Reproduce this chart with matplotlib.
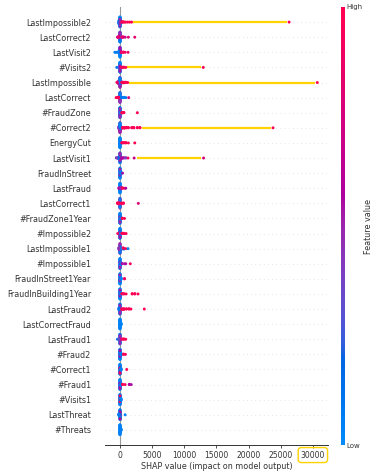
import numpy as np
import matplotlib
matplotlib.use("Agg")
import matplotlib.pyplot as plt
from matplotlib.colors import LinearSegmentedColormap
from matplotlib.patches import FancyBboxPatch
from matplotlib.transforms import IdentityTransform

nan = np.nan

# features, top to bottom
features = ["LastImpossible2", "LastCorrect2", "LastVisit2", "#Visits2", "LastImpossible",
            "LastCorrect", "#FraudZone", "#Correct2", "EnergyCut", "LastVisit1",
            "FraudInStreet", "LastFraud", "LastCorrect1", "#FraudZone1Year", "#Impossible2",
            "LastImpossible1", "#Impossible1", "FraudInStreet1Year", "FraudInBuilding1Year",
            "LastFraud2", "LastCorrectFraud", "LastFraud1", "#Fraud2", "#Correct1",
            "#Fraud1", "#Visits1", "LastThreat", "#Threats"]

# shap value groups per feature (value, how many points, feature value 0..1, nan = missing)
shap_vals = [
    [0, -150, 150, -150, 0, 300, 500, 700, 900, 1200, 1500, 1800, 26300],
    [0, 0, -150, 150, -400, -250, 300, 500, 800, 1300, 2300],
    [0, 0, -150, -300, -600, -800, 200, 500, 800, 1250],
    [0, -150, 0, -500, 300, 600, 900, 12950],
    [0, -150, -300, 150, 0, -450, 300, 600, 900, 1200, 30680],
    [0, 0, -600, -400, -200, 300, 600, 900, 1350],
    [0, 0, 150, 300, 600, 2700],
    [0, -150, 150, 0, 400, 700, 1000, 1300, 1850, 2150, 2700, 3100, 23800],
    [0, 150, 300, 600, 900, 1300, 2300],
    [0, 0, -300, -550, 300, 600, 900, 1250, 2200, 13000],
    [0, 0, 150, 400],
    [0, -150, 150, 400, 700, 900],
    [0, 0, -150, -400, -200, 250, 550, 2850],
    [0, 0, 150, 350, 700],
    [0, 0, 150, -350, 300, 600, 950],
    [0, 0, -150, 300, 600, 500, 900, 1250],
    [0, 0, 150, 350, 700, 900, 1600],
    [0, 0, 150, 700],
    [0, 0, 150, 300, 600, 950, 1900, 2300, 2800],
    [0, 0, -150, 300, 600, 1000, 1400, 1700, 3780],
    [0, 150],
    [0, 0, -400, -200, 300, 600, 900],
    [0, 0, 150, 550, 850],
    [0, 0, 150, 1050],
    [0, 0, 150, 400, 800, 1450, 1750],
    [0, 0, 150],
    [0, 0, 0, -150, 800],
    [0, 150],
]
counts = [
    [32, 10, 8, 3, 4, 2, 2, 1, 1, 1, 1, 1, 1],
    [24, 8, 6, 5, 1, 2, 2, 2, 1, 1, 1],
    [24, 8, 4, 2, 1, 1, 3, 2, 1, 1],
    [30, 4, 4, 1, 3, 2, 1, 1],
    [24, 12, 5, 8, 8, 2, 3, 3, 2, 1, 1],
    [24, 8, 1, 2, 3, 2, 2, 1, 1],
    [30, 8, 6, 3, 2, 1],
    [24, 8, 6, 8, 3, 3, 2, 2, 2, 2, 2, 2, 1],
    [32, 6, 2, 2, 2, 1, 1],
    [22, 8, 3, 2, 3, 2, 2, 1, 1, 1],
    [30, 3, 6, 1],
    [30, 3, 6, 2, 1, 1],
    [20, 8, 6, 2, 2, 3, 2, 1],
    [30, 4, 6, 2, 1],
    [30, 4, 6, 1, 2, 2, 1],
    [20, 6, 6, 3, 2, 2, 1, 1],
    [30, 4, 6, 2, 1, 1, 1],
    [30, 3, 6, 2],
    [30, 3, 6, 2, 2, 1, 2, 2, 1],
    [25, 6, 6, 3, 3, 2, 2, 1, 1],
    [32, 6],
    [22, 6, 1, 2, 2, 2, 1],
    [30, 3, 6, 2, 1],
    [30, 4, 6, 1],
    [30, 4, 6, 2, 1, 2, 1],
    [30, 3, 6],
    [20, 6, 4, 6, 1],
    [32, 6],
]
feat_vals = [
    [0.05, 0.1, 0.15, nan, 0.5, 1.0, 1.0, 1.0, 0.95, 1.0, 1.0, 1.0, 1.0],
    [0.08, 0.5, 0.6, 0.3, 0.7, 0.9, 0.9, 0.85, 0.7, 0.8, 0.85],
    [0.05, 0.55, 0.1, 0.05, 0.1, 0.05, 0.8, 0.95, 0.9, 0.85],
    [0.05, 0.3, 0.55, 0.1, 1.0, 0.95, 1.0, 1.0],
    [0.5, 0.45, 0.5, 0.1, 0.05, 0.9, 1.0, 1.0, 0.95, 1.0, 1.0],
    [0.45, 0.05, 0.95, 1.0, 0.95, 0.1, 0.05, 0.1, 0.75],
    [0.05, 0.5, 0.05, 1.0, 0.95, 1.0],
    [0.5, 0.45, 0.1, 0.05, 1.0, 1.0, 0.95, 1.0, 0.95, 1.0, 0.95, 1.0, 1.0],
    [0.05, 0.05, 1.0, 0.95, 1.0, 1.0, 1.0],
    [0.1, 0.5, 0.15, 0.4, 0.6, 0.55, 0.4, 0.9, 0.7, 0.75],
    [0.05, 0.5, 0.05, 0.55],
    [0.05, 0.6, 0.5, 0.95, 0.9, 0.6],
    [0.5, 0.05, 0.45, 1.0, 0.95, 1.0, 0.95, 0.8],
    [0.05, 0.5, 0.05, 1.0, 0.95],
    [0.05, 0.55, 0.05, 0.95, 1.0, 0.95, 1.0],
    [0.5, 0.1, 0.45, 0.05, 0.1, 0.95, 1.0, 0.05],
    [0.05, 0.5, 0.05, 0.55, 0.5, 0.6, 0.9],
    [0.05, 0.5, 0.05, 0.9],
    [0.05, 0.55, 0.05, 1.0, 0.95, 1.0, 1.0, 0.95, 1.0],
    [0.1, 0.5, 0.1, 1.0, 0.95, 1.0, 1.0, 0.95, 1.0],
    [0.05, 0.05],
    [0.1, 0.5, 0.1, 0.3, 0.9, 1.0, 0.95],
    [0.05, 0.6, 0.05, 1.0, 0.95],
    [0.05, 0.9, 0.05, 1.0],
    [0.05, 0.55, 0.05, 1.0, 0.95, 0.6, 0.55],
    [0.05, 0.95, 0.05],
    [0.08, nan, 0.6, 0.1, 0.05],
    [0.05, 0.05],
]

# highlighted long tails (yellow lines) and the boxed tick
hl_features = ["LastImpossible2", "#Visits2", "LastImpossible", "#Correct2", "LastVisit1"]
hl_start = [2000, 1150, 1450, 3500, 2600]
boxed_tick = 30000
xticks = [0, 5000, 10000, 15000, 20000, 25000, 30000]
gold = "#FFD200"


def lch2rgb(l, c, h):
    a, b = c * np.cos(h), c * np.sin(h)
    fy = (l + 16) / 116
    fx, fz = fy + a / 500, fy - b / 200
    finv = lambda t: np.where(t > 6 / 29, t ** 3, 3 * (6 / 29) ** 2 * (t - 4 / 29))
    xyz = np.array([0.95047 * finv(fx), finv(fy), 1.08883 * finv(fz)])
    m = np.array([[3.2406, -1.5372, -0.4986],
                  [-0.9689, 1.8758, 0.0415],
                  [0.0557, -0.2040, 1.0570]])
    rgb = m @ xyz
    rgb = np.where(rgb > 0.0031308, 1.055 * np.abs(rgb) ** (1 / 2.4) - 0.055, 12.92 * rgb)
    return np.clip(rgb, 0, 1)


# blue -> purple -> red, like shap's red_blue
t = np.linspace(0, 1, 100)
L = 54 - 14 * (1 - (2 * t - 1) ** 2)
C = 70 + 20 * t
H = 4.6588 + (0.35470565 + 2 * np.pi - 4.6588) * t
cmap = LinearSegmentedColormap.from_list("red_blue", [lch2rgb(*p) for p in zip(L, C, H)])


def swarm(vals, keys, binw=110.0):
    q = np.round(vals / binw)
    order = np.lexsort((keys, q))
    ys = np.zeros(len(vals))
    layer, last = 0, None
    for i in order:
        if q[i] != last:
            layer = 0
        ys[i] = np.ceil(layer / 2) * ((layer % 2) * 2 - 1)
        layer += 1
        last = q[i]
    return ys * 0.9 * 0.4 / np.max(ys + 1)


fig = plt.figure(figsize=(3.74, 4.71), dpi=100)
ax = fig.add_axes([105 / 374, 26 / 471, 223 / 374, 438 / 471])

n = len(features)
ax.axvline(0, color="#999999", lw=0.8, zorder=-1)
for i, name in enumerate(features):
    y = n - 1 - i
    ax.axhline(y, color="#cccccc", lw=0.5, dashes=(1, 5), zorder=-1)

    vals = np.repeat(shap_vals[i], counts[i]).astype(float)
    fvs = np.repeat(feat_vals[i], counts[i]).astype(float)
    keys = np.concatenate([np.arange(c) / c for c in counts[i]])
    ys = y + swarm(vals, keys)

    miss = np.isnan(fvs)
    ax.scatter(vals[miss], ys[miss], color="#777777", s=4.5, linewidth=0, zorder=3)
    ax.scatter(vals[~miss], ys[~miss], c=fvs[~miss], cmap=cmap, vmin=0, vmax=1,
               s=4.5, linewidth=0, zorder=3)

for name, x0 in zip(hl_features, hl_start):
    i = features.index(name)
    x1 = max(shap_vals[i]) - 350
    ax.plot([x0, x1], [n - 1 - i, n - 1 - i], color=gold, lw=1.6,
            solid_capstyle="butt", zorder=2)

ax.set_xlim(-2330, 32350)
ax.set_ylim(-1, n)
ax.set_yticks(range(n))
ax.set_yticklabels(features[::-1], fontsize=5.8, color="#333333")
ax.tick_params(axis="y", length=0, pad=10)
ax.set_xticks(xticks)
ax.tick_params(axis="x", labelsize=5.5, length=2.5, width=0.6, pad=1.5,
               colors="#333333")
ax.set_xlabel("SHAP value (impact on model output)", fontsize=5.8, labelpad=1.5,
              color="#333333")
for side in ["top", "right", "left"]:
    ax.spines[side].set_visible(False)
ax.spines["bottom"].set_color("#333333")
ax.spines["bottom"].set_linewidth(0.7)

cax = fig.add_axes([341 / 374, 26 / 471, 3.5 / 374, 438 / 471])
sm = plt.cm.ScalarMappable(cmap=cmap, norm=plt.Normalize(0, 1))
cb = fig.colorbar(sm, cax=cax, ticks=[0, 1])
cb.set_ticklabels(["Low", "High"])
cb.ax.tick_params(labelsize=5, length=0, pad=1.5, colors="#333333")
cb.outline.set_visible(False)
cb.set_label("Feature value", size=5.8, labelpad=1, color="#333333")

# rounded yellow box around the 30000 tick label
fig.canvas.draw()
renderer = fig.canvas.get_renderer()
for lab in ax.get_xticklabels():
    if lab.get_text() == str(boxed_tick):
        bb = lab.get_window_extent(renderer)
        box = FancyBboxPatch((bb.x0 - 2.5, bb.y0 - 3), bb.width + 5, bb.height + 6,
                             boxstyle="round,pad=0,rounding_size=3",
                             transform=IdentityTransform(), fc="none", ec=gold, lw=1.0)
        fig.add_artist(box)

fig.savefig("out.png", dpi=100)
